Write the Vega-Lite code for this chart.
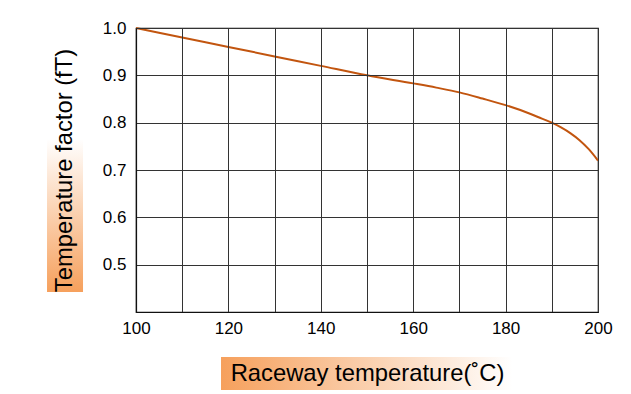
{
  "$schema": "https://vega.github.io/schema/vega-lite/v6.json",
  "width": 462,
  "height": 284,
  "autosize": {"type": "none"},
  "padding": {"left": 136, "top": 28, "right": 33, "bottom": 82},
  "background": "white",
  "config": {
    "view": {"stroke": "#111", "strokeWidth": 1.2},
    "font": "Liberation Sans",
    "axis": {
      "grid": true,
      "gridColor": "#333",
      "gridWidth": 1,
      "gridOpacity": 1,
      "domainColor": "#111",
      "domainWidth": 1.2,
      "ticks": false,
      "labelFont": "Liberation Sans",
      "labelFontSize": 17,
      "labelColor": "#000",
      "labelFlush": false,
      "titleFont": "Liberation Sans",
      "titleFontSize": 23.8,
      "titleFontWeight": "normal",
      "titleColor": "#000"
    }
  },
  "layer": [
    {
      "data": {
        "values": [
          {"temp": 100, "factor": 1.0},
          {"temp": 110, "factor": 0.98},
          {"temp": 120, "factor": 0.96},
          {"temp": 130, "factor": 0.94},
          {"temp": 140, "factor": 0.92},
          {"temp": 150, "factor": 0.9},
          {"temp": 160, "factor": 0.883},
          {"temp": 165, "factor": 0.874},
          {"temp": 170, "factor": 0.864},
          {"temp": 175, "factor": 0.851},
          {"temp": 180, "factor": 0.837},
          {"temp": 185, "factor": 0.82},
          {"temp": 187, "factor": 0.812},
          {"temp": 190, "factor": 0.8},
          {"temp": 192, "factor": 0.79},
          {"temp": 194, "factor": 0.778},
          {"temp": 196, "factor": 0.763},
          {"temp": 198, "factor": 0.744},
          {"temp": 200, "factor": 0.72}
        ]
      },
      "mark": {"type": "line", "color": "#c2550f", "strokeWidth": 2, "interpolate": "monotone"},
      "encoding": {
        "x": {
          "field": "temp",
          "type": "quantitative",
          "title": "Raceway temperature(˚C)",
          "scale": {"domain": [100, 200], "nice": false, "zero": false},
          "axis": {
            "zindex": 1,
            "values": [100, 110, 120, 130, 140, 150, 160, 170, 180, 190, 200],
            "labelExpr": "datum.value % 20 === 0 ? datum.label : ''",
            "labelPadding": 8,
            "titleX": 231,
            "titleY": 61,
            "titleBaseline": "middle"
          }
        },
        "y": {
          "field": "factor",
          "type": "quantitative",
          "title": "Temperature factor (fT)",
          "scale": {"domain": [0.4, 1.0], "nice": false, "zero": false},
          "axis": {
            "zindex": 1,
            "values": [0.4, 0.5, 0.6, 0.7, 0.8, 0.9, 1.0],
            "format": ".1f",
            "labelExpr": "datum.value < 0.45 ? '' : datum.label",
            "labelPadding": 10,
            "titleX": -72,
            "titleY": 142,
            "titleBaseline": "middle"
          }
        }
      }
    },
    {
      "data": {"values": [{}]},
      "mark": {
        "type": "rect",
        "clip": false,
        "color": {
          "gradient": "linear",
          "x1": 0, "y1": 0, "x2": 1, "y2": 0,
          "stops": [
            {"offset": 0, "color": "#f6a05c"},
            {"offset": 1, "color": "#ffffff"}
          ]
        }
      },
      "encoding": {
        "x": {"datum": 118.4, "type": "quantitative"},
        "x2": {"datum": 181.5},
        "y": {"datum": 0.3049, "type": "quantitative"},
        "y2": {"datum": 0.2352}
      }
    },
    {
      "data": {"values": [{}]},
      "mark": {
        "type": "rect",
        "clip": false,
        "color": {
          "gradient": "linear",
          "x1": 0, "y1": 1, "x2": 0, "y2": 0,
          "stops": [
            {"offset": 0, "color": "#f6a05c"},
            {"offset": 0.62, "color": "#ffffff"},
            {"offset": 1, "color": "#ffffff"}
          ]
        }
      },
      "encoding": {
        "x": {"datum": 80.74, "type": "quantitative"},
        "x2": {"datum": 88.53},
        "y": {"datum": 0.442, "type": "quantitative"},
        "y2": {"datum": 0.964}
      }
    }
  ]
}
